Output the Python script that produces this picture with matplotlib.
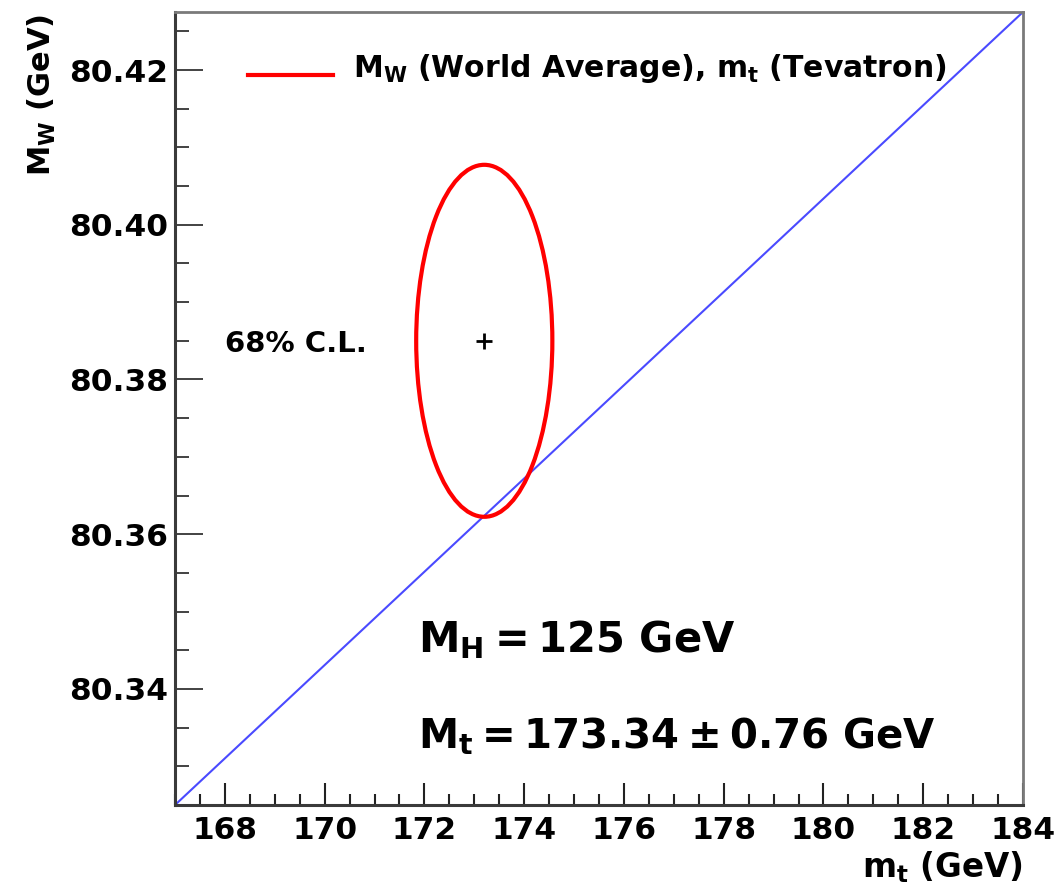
import numpy as np
import matplotlib
matplotlib.use("Agg")
import matplotlib.pyplot as plt
from matplotlib.patches import Ellipse
from matplotlib.ticker import MultipleLocator, FormatStrFormatter

plt.rcParams["font.family"] = ["DejaVu Sans"]
plt.rcParams["font.weight"] = "bold"
plt.rcParams["mathtext.fontset"] = "dejavusans"

# Measurements: W mass (world average) and top mass (Tevatron)
mt_central = 173.2
mt_sigma = 0.9
mw_central = 80.385
mw_sigma = 0.015
delta_chi2_68 = 2.30  # two-parameter 68% C.L.

# Standard Model prediction line for M_H = 125 GeV
mt_line = [167.0, 184.0]
mw_line = [80.325, 80.4275]

x_range = (167.0, 184.0)
y_range = (80.325, 80.4275)
x_major_ticks = [168, 170, 172, 174, 176, 178, 180, 182, 184]
y_major_ticks = [80.34, 80.36, 80.38, 80.40, 80.42]

W, H = 1059, 885
fig = plt.figure(figsize=(W / 100, H / 100), dpi=100)
fig.patch.set_facecolor("white")


def fx(px):
    return px / W


def fy(py):
    return 1 - py / H


ax = fig.add_axes([fx(175), fy(805), fx(1023) - fx(175), fy(12) - fy(805)])

# SM line
ax.plot(mt_line, mw_line, color="#4a4aff", lw=1.5, zorder=2)

# 68% C.L. contour
k = np.sqrt(delta_chi2_68)
ax.add_patch(Ellipse((mt_central, mw_central), 2 * k * mt_sigma, 2 * k * mw_sigma,
                     fill=False, edgecolor="#ff0000", lw=3.0, zorder=3))
ax.plot([mt_central], [mw_central], marker="+", color="black",
        markersize=12, mew=2.0, zorder=4)

ax.set_xlim(*x_range)
ax.set_ylim(*y_range)
ax.set_xticks(x_major_ticks)
ax.set_yticks(y_major_ticks)
ax.xaxis.set_minor_locator(MultipleLocator(0.5))
ax.yaxis.set_minor_locator(MultipleLocator(0.005))
ax.xaxis.set_major_formatter(FormatStrFormatter("%d"))
ax.yaxis.set_major_formatter(FormatStrFormatter("%.2f"))

ax.tick_params(axis="both", which="both", direction="in", top=False, right=False,
               colors="#222222", labelcolor="black")
ax.tick_params(axis="y", which="major", length=20, width=1.2, pad=5, labelsize=22.5)
ax.tick_params(axis="y", which="minor", length=10, width=1.2)
ax.tick_params(axis="x", which="major", length=16, width=1.5, pad=8, labelsize=22.5)
ax.tick_params(axis="x", which="minor", length=8, width=1.5)
for lab in ax.get_xticklabels() + ax.get_yticklabels():
    lab.set_fontweight("bold")

for side in ("left", "bottom"):
    ax.spines[side].set_color("#3a3a3a")
    ax.spines[side].set_linewidth(2.2)
for side in ("top", "right"):
    ax.spines[side].set_color("#7a7a7a")
    ax.spines[side].set_linewidth(2.0)

# Axis titles
fig.text(fx(42), fy(14), r"$\mathbf{M_W}$ (GeV)", rotation=90, ha="center", va="top",
         fontsize=22, fontweight="bold")
fig.text(fx(1023), fy(877), r"$\mathbf{m_t}$ (GeV)", ha="right", va="baseline",
         fontsize=23.5, fontweight="bold")

# Legend entry
fig.add_artist(plt.Line2D([fx(248), fx(333)], [fy(75), fy(75)], color="#ff0000", lw=3.0))
fig.text(fx(353), fy(77), r"$\mathbf{M_W}$ (World Average), $\mathbf{m_t}$ (Tevatron)",
         ha="left", va="baseline", fontsize=21.5, fontweight="bold")

# Annotations
fig.text(fx(225), fy(352), "68% C.L.", ha="left", va="baseline", fontsize=21, fontweight="bold")
fig.text(fx(418), fy(652), r"$\mathbf{M_H = 125\ GeV}$", ha="left", va="baseline", fontsize=30)
fig.text(fx(418), fy(748), r"$\mathbf{M_t = 173.34 \pm 0.76\ GeV}$", ha="left", va="baseline",
         fontsize=29)

fig.savefig("out.png", dpi=100, facecolor="white")
